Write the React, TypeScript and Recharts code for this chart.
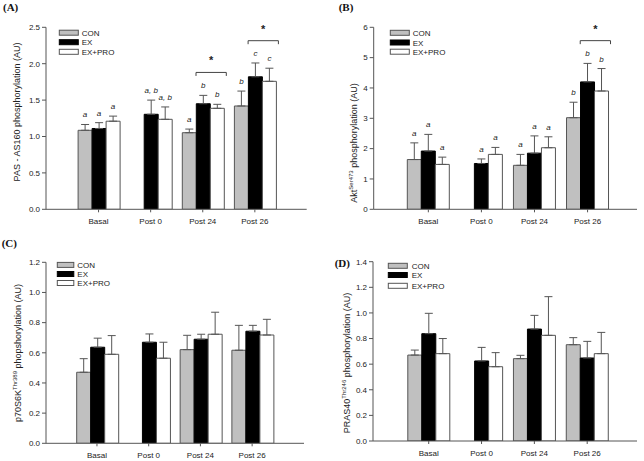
import React from 'react';
import { BarChart, Bar, XAxis, YAxis, ErrorBar, LabelList } from 'recharts';

const categories = ['Basal', 'Post 0', 'Post 24', 'Post 26'];
const seriesNames = ['CON', 'EX', 'EX+PRO'];

// Panel A: PAS-AS160
const aCon = [1.085, null, 1.052, 1.419];
const aConErr = [0.08, null, 0.05, 0.205];
const aEx = [1.11, 1.305, 1.45, 1.82];
const aExErr = [0.08, 0.195, 0.115, 0.19];
const aPro = [1.21, 1.236, 1.387, 1.758];
const aProErr = [0.07, 0.17, 0.055, 0.18];
const aConLetters = ['a', null, 'a', 'b'];
const aExLetters = ['a', 'a, b', 'b', 'c'];
const aProLetters = ['a', 'a, b', 'b', 'c'];
const aBracket = [null, null, 1.88, 2.316];
const aTicks = [0, 0.5, 1, 1.5, 2, 2.5];

// Panel B: Akt Ser473
const bCon = [1.64, null, 1.45, 3.02];
const bConErr = [0.55, null, 0.36, 0.51];
const bEx = [1.92, 1.51, 1.85, 4.2];
const bExErr = [0.55, 0.15, 0.57, 0.61];
const bPro = [1.48, 1.81, 2.03, 3.9];
const bProErr = [0.24, 0.23, 0.36, 0.74];
const bConLetters = ['a', null, 'a', 'b'];
const bExLetters = ['a', 'a', 'a', 'b'];
const bProLetters = ['a', 'a', 'a', 'b'];
const bBracket = [null, null, null, 5.56];
const bTicks = [0, 1, 2, 3, 4, 5, 6];

// Panel C: p70S6K Thr389
const cCon = [0.471, null, 0.621, 0.617];
const cConErr = [0.09, null, 0.095, 0.165];
const cEx = [0.637, 0.67, 0.69, 0.743];
const cExErr = [0.06, 0.055, 0.033, 0.039];
const cPro = [0.59, 0.564, 0.723, 0.718];
const cProErr = [0.124, 0.106, 0.146, 0.104];
const cTicks = [0, 0.2, 0.4, 0.6, 0.8, 1.0, 1.2];

// Panel D: PRAS40 Thr246
const dCon = [0.671, null, 0.643, 0.752];
const dConErr = [0.039, null, 0.026, 0.055];
const dEx = [0.838, 0.625, 0.874, 0.648];
const dExErr = [0.159, 0.106, 0.107, 0.13];
const dPro = [0.682, 0.58, 0.825, 0.682];
const dProErr = [0.118, 0.11, 0.302, 0.166];
const dTicks = [0, 0.2, 0.4, 0.6, 0.8, 1.0, 1.2, 1.4];

const FONT = 'Liberation Sans, Arial, Helvetica, sans-serif';
const SERIF = 'Liberation Serif, Times New Roman, serif';
const fills = ['#c0c0c0', '#000000', '#ffffff'];
const AXIS = '#555';
const TXT = '#222';

function buildRows(con, conE, ex, exE, pro, proE, conL?, exL?, proL?, br?) {
  return categories.map((c, i) => ({
    cat: c,
    con: con[i],
    ex: ex[i],
    pro: pro[i],
    conErr: conE[i] == null ? null : [0, conE[i]],
    exErr: exE[i] == null ? null : [0, exE[i]],
    proErr: proE[i] == null ? null : [0, proE[i]],
    conE: conE[i],
    exE: exE[i],
    proE: proE[i],
    conL: conL ? conL[i] : null,
    exL: exL ? exL[i] : null,
    proL: proL ? proL[i] : null,
    bracket: br ? br[i] : null,
  }));
}

const rowsA = buildRows(aCon, aConErr, aEx, aExErr, aPro, aProErr, aConLetters, aExLetters, aProLetters, aBracket);
const rowsB = buildRows(bCon, bConErr, bEx, bExErr, bPro, bProErr, bConLetters, bExLetters, bProLetters, bBracket);
const rowsC = buildRows(cCon, cConErr, cEx, cExErr, cPro, cProErr);
const rowsD = buildRows(dCon, dConErr, dEx, dExErr, dPro, dProErr);

function getBox(p) {
  const vb = p.viewBox || {};
  return {
    x: p.x != null ? p.x : vb.x,
    y: p.y != null ? p.y : vb.y,
    width: p.width != null ? p.width : vb.width,
    height: p.height != null ? p.height : vb.height,
  };
}

function letterContent(rows, k) {
  return (p) => {
    const row = rows.find((r) => r.cat === p.value);
    if (!row || row[k] == null || row[k + 'L'] == null) return null;
    const { x, y, width, height } = getBox(p);
    const pxPerUnit = height / row[k];
    const errTop = y - (row[k + 'E'] || 0) * pxPerUnit;
    return (
      <text x={x + width / 2} y={errTop - 7} textAnchor="middle" fontSize={8} fontStyle="italic" fontFamily={FONT} fill={TXT}>
        {row[k + 'L']}
      </text>
    );
  };
}

function bracketContent(rows) {
  return (p) => {
    const row = rows.find((r) => r.cat === p.value);
    if (!row || row.bracket == null || row.ex == null) return null;
    const { x, y, width, height } = getBox(p);
    const pxPerUnit = height / row.ex;
    const base = y + height;
    const by = base - row.bracket * pxPerUnit;
    const x1 = x - 0.3;
    const x2 = x + 2 * width + 2;
    return (
      <g>
        <path d={`M${x1},${by + 3.5}L${x1},${by}L${x2},${by}L${x2},${by + 3.5}`} fill="none" stroke="#444" strokeWidth={1} />
        <text x={(x1 + x2) / 2} y={by - 8} textAnchor="middle" fontSize={11} fontWeight="bold" fontFamily={FONT} fill={TXT}>*</text>
      </g>
    );
  };
}

function Panel({ rows, left, top, width, height, margin, yWidth, xHeight, padding, gap, domainMax, ticks, fmt, letters }) {
  const keys = ['con', 'ex', 'pro'];
  return (
    <div style={{ position: 'absolute', left, top, width, height }}>
      <BarChart width={width} height={height} data={rows} margin={margin} barGap={0} barCategoryGap={gap}>
        <XAxis
          dataKey="cat"
          interval={0}
          padding={padding}
          height={xHeight}
          tickSize={3}
          tickMargin={6}
          axisLine={{ stroke: AXIS }}
          tickLine={{ stroke: AXIS }}
          tick={{ fontSize: 8, fill: TXT, fontFamily: FONT }}
        />
        <YAxis
          width={yWidth}
          domain={[0, domainMax]}
          ticks={ticks}
          interval={0}
          allowDataOverflow
          tickFormatter={fmt}
          tickSize={4}
          tickMargin={2}
          axisLine={{ stroke: AXIS }}
          tickLine={{ stroke: AXIS }}
          tick={{ fontSize: 8, fill: TXT, fontFamily: FONT }}
        />
        {keys.map((k, i) => (
          <Bar key={k} dataKey={k} name={seriesNames[i]} fill={fills[i]} stroke={i === 1 ? '#000' : '#555'} strokeWidth={1} isAnimationActive={false}>
            <ErrorBar dataKey={k + 'Err'} width={4} stroke="#555" strokeWidth={1} direction="y" />
            {letters && <LabelList dataKey="cat" content={letterContent(rows, k)} />}
            {letters && k === 'ex' && <LabelList dataKey="cat" content={bracketContent(rows)} />}
          </Bar>
        ))}
      </BarChart>
    </div>
  );
}

function LegendBlock({ x, textX, ys, boxW }) {
  return (
    <g>
      {seriesNames.map((n, i) => (
        <g key={n}>
          <rect x={x} y={ys[i] - 2.5} width={boxW} height={5} fill={fills[i]} stroke={i === 1 ? '#000' : '#555'} strokeWidth={1} />
          <text x={textX} y={ys[i] + 3} fontSize={8} fontFamily={FONT} fill={TXT}>{n}</text>
        </g>
      ))}
    </g>
  );
}

function YTitle({ x, y, children }) {
  return (
    <text transform={`translate(${x},${y}) rotate(-90)`} textAnchor="middle" dominantBaseline="central" fontSize={9} fontFamily={FONT} fill={TXT}>
      {children}
    </text>
  );
}

const f1 = (v) => Number(v).toFixed(1);
const f0 = (v) => String(v);

export default function App() {
  return (
    <div style={{ position: 'absolute', left: 0, top: 0, width: 644, height: 461, background: '#fff', overflow: 'hidden' }}>
      <Panel rows={rowsA} left={0} top={0} width={322} height={230}
        margin={{ top: 27.3, right: 15.3, bottom: 0.7, left: 0 }} yWidth={46} xHeight={20}
        padding={{ left: 26.5, right: 25.8 }} gap={5.6} domainMax={2.5} ticks={aTicks} fmt={f1} letters />
      <Panel rows={rowsB} left={322} top={0} width={322} height={230}
        margin={{ top: 27.3, right: 7, bottom: 0.7, left: 0 }} yWidth={51.7} xHeight={20}
        padding={{ left: 28.1, right: 22.9 }} gap={5.5} domainMax={6} ticks={bTicks} fmt={f0} letters />
      <Panel rows={rowsC} left={0} top={230} width={322} height={231}
        margin={{ top: 32.3, right: 18, bottom: 0.7, left: 0 }} yWidth={46} xHeight={17}
        padding={{ left: 25.1, right: 26 }} gap={5.6} domainMax={1.2} ticks={cTicks} fmt={f1} />
      <Panel rows={rowsD} left={322} top={230} width={322} height={231}
        margin={{ top: 31.7, right: 7, bottom: 0.7, left: 0 }} yWidth={51} xHeight={19.3}
        padding={{ left: 29.3, right: 23.4 }} gap={5.5} domainMax={1.4} ticks={dTicks} fmt={f1} />
      <svg width={644} height={461} style={{ position: 'absolute', left: 0, top: 0, pointerEvents: 'none' }}>
        <text x={3} y={11} fontSize={11} fontWeight="bold" fontFamily={SERIF} fill="#111">(A)</text>
        <text x={338.7} y={11} fontSize={11} fontWeight="bold" fontFamily={SERIF} fill="#111">(B)</text>
        <text x={1.7} y={247} fontSize={11} fontWeight="bold" fontFamily={SERIF} fill="#111">(C)</text>
        <text x={334.7} y={267} fontSize={11} fontWeight="bold" fontFamily={SERIF} fill="#111">(D)</text>

        <YTitle x={17.3} y={112}>PAS - AS160 phosphorylation (AU)</YTitle>
        <YTitle x={353.7} y={143}>
          <tspan>Akt</tspan>
          <tspan fontSize={6} dy={-3}>Ser473</tspan>
          <tspan dy={3}> phosphorylation (AU)</tspan>
        </YTitle>
        <YTitle x={18.3} y={353}>
          <tspan>p70S6K</tspan>
          <tspan fontSize={6} dy={-3}>Thr389</tspan>
          <tspan dy={3}> phopshorylation (AU)</tspan>
        </YTitle>
        <YTitle x={347} y={363}>
          <tspan>PRAS40</tspan>
          <tspan fontSize={6} dy={-3}>Thr246</tspan>
          <tspan dy={3}> phosphorylation (AU)</tspan>
        </YTitle>

        <LegendBlock x={59.3} textX={81.7} ys={[32.7, 42.2, 51.8]} boxW={19} />
        <LegendBlock x={390.3} textX={412.7} ys={[32.8, 42.5, 51.7]} boxW={19} />
        <LegendBlock x={57.3} textX={77.3} ys={[264.9, 274, 283]} boxW={16.5} />
        <LegendBlock x={388.3} textX={411.7} ys={[265.8, 275, 285.8]} boxW={19} />
      </svg>
    </div>
  );
}
